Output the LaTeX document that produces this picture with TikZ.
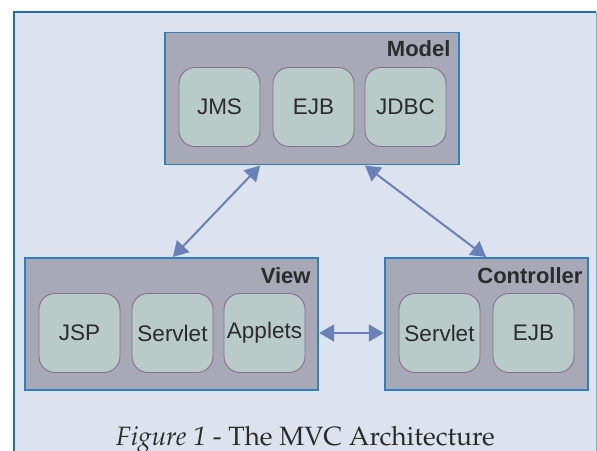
\documentclass[tikz,border=0pt]{standalone}
\usepackage[T1]{fontenc}
\usepackage{fontspec}
\setmainfont{Liberation Sans}
\usetikzlibrary{arrows.meta,calc}
\definecolor{bgc}{HTML}{DCE2EE}
\definecolor{frameblue}{HTML}{1F6FB5}
\definecolor{framelight}{HTML}{7FAED6}
\definecolor{boxfill}{HTML}{A8A9B6}
\definecolor{boxline}{HTML}{2F7FC1}
\definecolor{innerfill}{HTML}{B8CBC9}
\definecolor{innerline}{HTML}{8B6B8E}
\definecolor{arrowc}{HTML}{6A80B8}
\definecolor{txt}{HTML}{2B2B2B}
\tikzset{
  layer/.style={draw=boxline, line width=1.4pt, fill=boxfill, rectangle, minimum height=132pt, inner sep=0pt},
  comp/.style={draw=innerline, line width=0.9pt, fill=innerfill, rounded corners=16pt,
    minimum width=81pt, minimum height=79pt, inner sep=0pt, text=txt,
    font=\fontsize{22.5}{26}\selectfont},
  layertitle/.style={anchor=base east, text=txt, inner sep=0pt, font=\fontsize{22}{26}\selectfont\bfseries},
  arr/.style={draw=arrowc, line width=2pt, {Triangle[length=15pt,width=17pt]}-{Triangle[length=15pt,width=17pt]}, shorten <=0.5pt, shorten >=0.5pt}
}
\begin{document}
\begin{tikzpicture}[x=1pt,y=-1pt]
\useasboundingbox (0,0) rectangle (597,450);
% outer frame
\fill[bgc] (14,12) rectangle (596,460);
\draw[framelight, line width=1pt] (596,12) -- (596,460);
\draw[frameblue, line width=2.2pt] (14,460) -- (14,12) -- (596,12);
% layers
\node[layer, minimum width=294pt] (model) at (312,98.5) {};
\node[layer, minimum width=293pt] (view) at (171.5,324) {};
\node[layer, minimum width=203pt] (controller) at (486.5,324) {};
\node[layertitle] (modelt) at ($(model.north east)+(-9,25)$) {Model};
\node[layertitle] (viewt) at ($(view.north east)+(-8,26)$) {View};
\node[layertitle] (controllert) at ($(controller.north east)+(-6,26)$) {Controller};
% components
\node[comp] (jms) at (219.5,107) {JMS};
\node[comp] (mejb) at (313.5,107) {EJB};
\node[comp] (jdbc) at (405.5,107) {JDBC};
\node[comp] (jsp) at (79.5,333) {JSP};
\node[comp] (vservlet) at (172.5,333) {Servlet};
\node[comp] (applets) at (264.5,333) {Applets};
\node[comp] (cservlet) at (439.5,333) {Servlet};
\node[comp] (cejb) at (533.5,333) {EJB};
% connectors
\draw[arr] (jms.east |- model.south) -- (vservlet.center |- view.north);
\draw[arr] (jdbc.west |- model.south) -- (controller.north);
\draw[arr] (applets.center -| view.east) -- (applets.center -| controller.west);
% caption
\node[anchor=base, text=txt, inner sep=0pt, font=\fontencoding{T1}\fontfamily{ppl}\fontsize{26.5}{30}\selectfont] (caption) at (305.5,445) {\textit{Figure 1} - The MVC Architecture};
\end{tikzpicture}
\end{document}
